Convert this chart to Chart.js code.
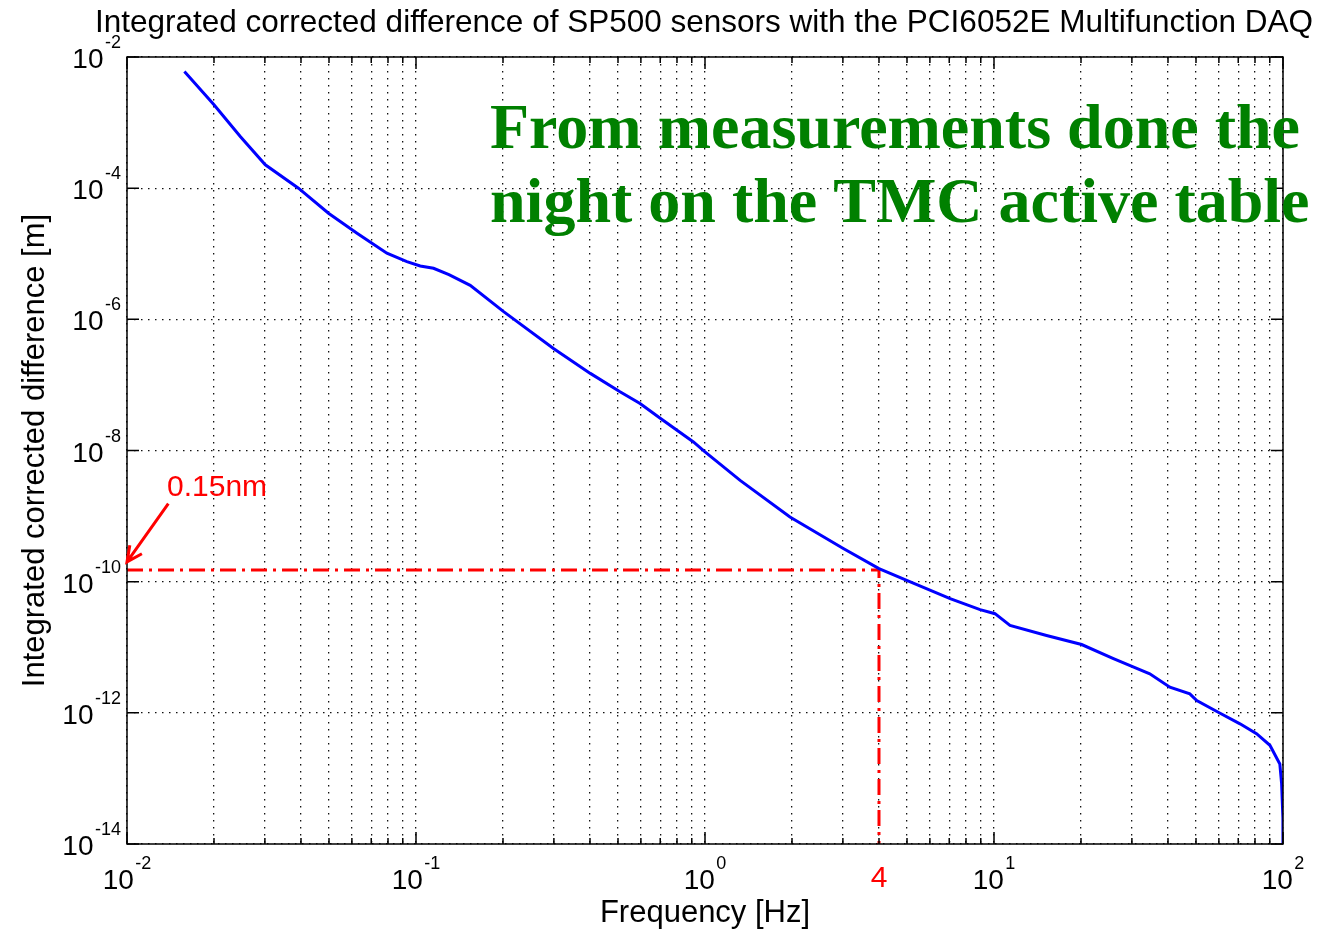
<!DOCTYPE html>
<html>
<head>
<meta charset="utf-8">
<title>Integrated corrected difference SP500</title>
<script src="https://cdn.jsdelivr.net/npm/chart.js@4.4.1/dist/chart.umd.min.js"></script>
<style>
    html, body { margin: 0; padding: 0; background: #fff; }
    #zone { width: 1318px; height: 930px; }
</style>
</head>
<body>
<div id="zone"><canvas id="graphe" width="1318" height="930"></canvas></div>
<script>
// Données (fréquence en Hz, différence intégrée en m)
const frequences = [0.0158, 0.0200, 0.0247, 0.0301, 0.0392, 0.0498, 0.0625, 0.0793, 0.093, 0.1034,
    0.115, 0.13, 0.154, 0.201, 0.299, 0.401, 0.508, 0.596, 0.700, 0.912,
    1.0, 1.128, 1.323, 1.968, 3.01, 4.0, 4.99, 7.05, 8.95, 10.08,
    11.36, 15.2, 20.1, 25.9, 30.3, 34.6, 40.6, 47.6, 50.3, 59.7,
    71.0, 81.0, 90.1, 97.5, 98.9, 99.93, 100];
const differences = [6.0e-3, 1.87e-3, 6.1e-4, 2.27e-4, 1.0e-4, 4.15e-5, 2.06e-5, 1.02e-5, 7.6e-6, 6.5e-6,
    6.0e-6, 4.8e-6, 3.3e-6, 1.31e-6, 3.6e-7, 1.5e-7, 7.85e-8, 5.2e-8, 3.1e-8, 1.35e-8,
    9.5e-9, 6.2e-9, 3.5e-9, 9.7e-10, 3.2e-10, 1.58e-10, 1.05e-10, 5.5e-11, 3.74e-11, 3.25e-11,
    2.15e-11, 1.51e-11, 1.1e-11, 6.7e-12, 5.0e-12, 3.94e-12, 2.46e-12, 1.95e-12, 1.54e-12, 1.02e-12,
    6.8e-13, 4.8e-13, 3.2e-13, 1.66e-13, 8.3e-14, 2.5e-14, 5e-15];

// Repère rouge : 0.15 nm à 4 Hz
const freqRepere = 4;
const valeurRepere = 1.5e-10;
const texteRepere = "0.15nm";
const flecheDebut = [0.0139, 1.55e-9];
const flecheFin = [0.01, 2.0e-10];

// Graduations
const exposantsX = [-2, -1, 0, 1, 2];
const exposantsY = [-14, -12, -10, -8, -6, -4, -2];

const titre = "Integrated corrected difference of SP500 sensors with the PCI6052E Multifunction DAQ";
const titreX = "Frequency [Hz]";
const titreY = "Integrated corrected difference [m]";
const note = ["From measurements done the", "night on the TMC active table"];

const POLICE = "'Liberation Sans', Arial, sans-serif";

// toutes les valeurs 1..9 x 10^n pour la grille en x
function graduationsX() {
    const t = [];
    for (let e = exposantsX[0]; e < exposantsX[exposantsX.length - 1]; e++) {
        for (let k = 1; k <= 9; k++) t.push(k * Math.pow(10, e));
    }
    t.push(Math.pow(10, exposantsX[exposantsX.length - 1]));
    return t;
}

function estDecade(v) {
    const l = Math.log10(v);
    return Math.abs(l - Math.round(l)) < 1e-6;
}

function puissanceDix(ctx, exp, x, y, aligne) {
    ctx.font = "28px " + POLICE;
    const w10 = ctx.measureText("10").width;
    ctx.font = "18px " + POLICE;
    const wExp = ctx.measureText(String(exp)).width;
    const x0 = aligne === "center" ? x - (w10 + 1.5 + wExp) / 2 : x - (w10 + 1.5 + wExp);
    ctx.textAlign = "left";
    ctx.textBaseline = "alphabetic";
    ctx.font = "28px " + POLICE;
    ctx.fillText("10", x0, y);
    ctx.font = "18px " + POLICE;
    ctx.fillText(String(exp), x0 + w10 + 1.5, y - 20);
}

const decorations = {
    id: "decorations",
    afterDraw(chart) {
        const ctx = chart.ctx;
        const xs = chart.scales.x;
        const ys = chart.scales.y;
        const ca = chart.chartArea;
        ctx.save();

        // cadre + petits traits vers l'intérieur
        ctx.strokeStyle = "#000";
        ctx.lineWidth = 1.5;
        ctx.strokeRect(ca.left, ca.top, ca.right - ca.left, ca.bottom - ca.top);
        ctx.beginPath();
        xs.ticks.forEach(t => {
            const px = xs.getPixelForValue(t.value);
            const l = estDecade(t.value) ? 12 : 6;
            ctx.moveTo(px, ca.bottom); ctx.lineTo(px, ca.bottom - l);
            ctx.moveTo(px, ca.top); ctx.lineTo(px, ca.top + l);
        });
        ys.ticks.forEach(t => {
            const py = ys.getPixelForValue(t.value);
            ctx.moveTo(ca.left, py); ctx.lineTo(ca.left + 12, py);
            ctx.moveTo(ca.right, py); ctx.lineTo(ca.right - 12, py);
        });
        ctx.stroke();

        // étiquettes 10^n
        ctx.fillStyle = "#000";
        exposantsX.forEach(e => {
            puissanceDix(ctx, e, xs.getPixelForValue(Math.pow(10, e)), ca.bottom + 45, "center");
        });
        exposantsY.forEach(e => {
            puissanceDix(ctx, e, ca.left - 6, ys.getPixelForValue(Math.pow(10, e)) + 11, "right");
        });

        // titres
        ctx.font = "31.5px " + POLICE;
        ctx.textAlign = "center";
        ctx.fillText(titre, 704, 32);
        ctx.font = "31px " + POLICE;
        ctx.fillText(titreX, (ca.left + ca.right) / 2, 922);
        ctx.save();
        ctx.translate(44, (ca.top + ca.bottom) / 2);
        ctx.rotate(-Math.PI / 2);
        ctx.fillText(titreY, 0, 0);
        ctx.restore();

        // annotation rouge
        ctx.fillStyle = "#ff0000";
        ctx.strokeStyle = "#ff0000";
        ctx.font = "30px " + POLICE;
        ctx.textAlign = "center";
        ctx.fillText(String(freqRepere), xs.getPixelForValue(freqRepere), 887);
        ctx.textAlign = "left";
        ctx.fillText(texteRepere, 167, 496);

        const x1 = xs.getPixelForValue(flecheDebut[0]), y1 = ys.getPixelForValue(flecheDebut[1]);
        const x2 = xs.getPixelForValue(flecheFin[0]), y2 = ys.getPixelForValue(flecheFin[1]);
        const ang = Math.atan2(y2 - y1, x2 - x1);
        ctx.lineWidth = 3;
        ctx.beginPath();
        ctx.moveTo(x1, y1); ctx.lineTo(x2, y2);
        ctx.moveTo(x2 - 17 * Math.cos(ang - 0.45), y2 - 17 * Math.sin(ang - 0.45));
        ctx.lineTo(x2, y2);
        ctx.lineTo(x2 - 17 * Math.cos(ang + 0.45), y2 - 17 * Math.sin(ang + 0.45));
        ctx.stroke();

        // texte vert
        ctx.fillStyle = "#008000";
        ctx.font = "bold 64px 'Liberation Serif', 'Times New Roman', serif";
        ctx.fillText(note[0], 490, 148);
        ctx.fillText(note[1], 490, 222);

        ctx.restore();
    }
};

const ctx = document.getElementById("graphe").getContext("2d");

new Chart(ctx, {
    type: "line",
    data: {
        datasets: [
            {
                label: "difference",
                data: frequences.map((f, i) => ({ x: f, y: differences[i] })),
                borderColor: "#0000ff",
                borderWidth: 3,
                pointRadius: 0,
                tension: 0,
                fill: false
            },
            {
                label: "repere",
                data: [
                    { x: Math.pow(10, exposantsX[0]), y: valeurRepere },
                    { x: freqRepere, y: valeurRepere },
                    { x: freqRepere, y: Math.pow(10, exposantsY[0]) }
                ],
                borderColor: "#ff0000",
                borderWidth: 3,
                borderDash: [16, 6, 3, 6],
                pointRadius: 0,
                tension: 0,
                fill: false
            }
        ]
    },
    options: {
        responsive: false,
        animation: false,
        devicePixelRatio: 1,
        events: [],
        layout: { padding: { top: 57, right: 35, left: 0, bottom: 0 } },
        plugins: {
            legend: { display: false },
            tooltip: { enabled: false },
            title: { display: false }
        },
        scales: {
            x: {
                type: "logarithmic",
                position: "bottom",
                min: Math.pow(10, exposantsX[0]),
                max: Math.pow(10, exposantsX[exposantsX.length - 1]),
                afterBuildTicks: s => { s.ticks = graduationsX().map(v => ({ value: v })); },
                afterFit: s => { s.height = 86; },
                ticks: { display: false },
                grid: { color: "#111", lineWidth: 1.3, drawTicks: false },
                border: { display: false, dash: [1.5, 5.5] }
            },
            y: {
                type: "logarithmic",
                position: "left",
                min: Math.pow(10, exposantsY[0]),
                max: Math.pow(10, exposantsY[exposantsY.length - 1]),
                afterBuildTicks: s => { s.ticks = exposantsY.map(e => ({ value: Math.pow(10, e) })); },
                afterFit: s => { s.width = 127; },
                ticks: { display: false },
                grid: { color: "#111", lineWidth: 1.3, drawTicks: false },
                border: { display: false, dash: [1.5, 5.5] }
            }
        }
    },
    plugins: [decorations]
});
</script>
</body>
</html>
